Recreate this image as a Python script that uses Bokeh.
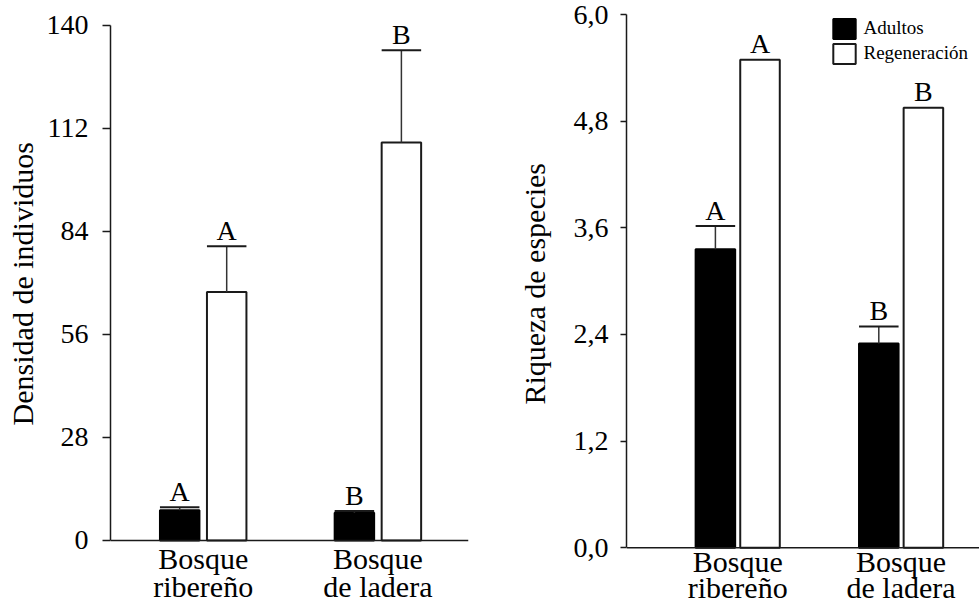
from bokeh.plotting import figure
from bokeh.models import Range1d, FixedTicker, Legend, LegendItem, Span
from bokeh.layouts import row
from bokeh.embed import file_html
from bokeh.resources import INLINE
from bokeh.core.properties import value

# ---------------- data ----------------
categories = ["Bosque\nribereño", "Bosque\nde ladera"]
series = ["Adultos", "Regeneración"]

dens_adultos = [8.2, 7.5]
dens_adultos_err = [0.8, 0.5]
dens_regen = [67.5, 108.1]
dens_regen_err = [12.4, 25.1]
dens_adultos_letras = ["A", "B"]
dens_regen_letras = ["A", "B"]

riq_adultos = [3.36, 2.30]
riq_adultos_err = [0.26, 0.19]
riq_regen = [5.49, 4.95]
riq_adultos_letras = ["A", "B"]
riq_regen_letras = ["A", "B"]

dens_ticks = [0, 28, 56, 84, 112, 140]
dens_tick_labels = ["0", "28", "56", "84", "112", "140"]
riq_ticks = [0.0, 1.2, 2.4, 3.6, 4.8, 6.0]
riq_tick_labels = ["0,0", "1,2", "2,4", "3,6", "4,8", "6,0"]

FONT = "Liberation Serif"
INK = "#1a1a1a"
NBSP = "\u00a0"


def make_panel(width, height, xr, yr, ybounds, borders, ticks, tick_labels,
               ylabel, title_pad, tick_out, label_standoff, title_standoff,
               offset, bar_w, adults, adults_err, regen, regen_err,
               letters_a, letters_r, letter_off, cat_offsets, legend_loc=None):
    p = figure(width=width, height=height,
               x_range=Range1d(*xr), y_range=Range1d(*yr),
               x_axis_location=None,
               output_backend="svg", toolbar_location=None,
               min_border_left=borders[0], min_border_right=borders[1],
               min_border_top=borders[2], min_border_bottom=borders[3])
    p.outline_line_color = None
    p.grid.visible = False
    p.background_fill_color = "white"
    p.border_fill_color = "white"

    xs = list(range(len(categories)))
    xa = [x - offset for x in xs]
    xg = [x + offset for x in xs]

    ra = p.vbar(x=xa, top=adults, bottom=0, width=bar_w,
                fill_color="black", line_color="black", line_width=2)
    rg = p.vbar(x=xg, top=regen, bottom=0, width=bar_w,
                fill_color="white", line_color=INK, line_width=2)

    def errbars(xc, vals, errs):
        tops = [v + e for v, e in zip(vals, errs)]
        p.segment(x0=xc, y0=vals, x1=xc, y1=tops,
                  line_color="#333333", line_width=1.5)
        p.segment(x0=[x - bar_w / 2 for x in xc], y0=tops,
                  x1=[x + bar_w / 2 for x in xc], y1=tops,
                  line_color=INK, line_width=2)
        return tops

    top_a = errbars(xa, adults, adults_err) if adults_err else adults
    top_g = errbars(xg, regen, regen_err) if regen_err else regen

    for xc, tops, letters in ((xa, top_a, letters_a), (xg, top_g, letters_r)):
        p.text(x=xc, y=tops, text=letters, y_offset=letter_off,
               text_font=value(FONT), text_font_size="28px",
               text_align="center", text_baseline="alphabetic",
               text_color="black")

    # x axis line at zero and the two-line category names beneath it
    p.add_layout(Span(location=0, dimension="width",
                      line_color=INK, line_width=1.5))
    lines = [c.split("\n") for c in categories]
    for j, dy in enumerate(cat_offsets):
        p.text(x=xs, y=[0] * len(xs), text=[ln[j] for ln in lines],
               y_offset=dy, text_font=value(FONT), text_font_size="30px",
               text_align="center", text_baseline="alphabetic",
               text_color="black")

    ya = p.yaxis[0]
    ya.ticker = FixedTicker(ticks=ticks)
    ya.major_label_overrides = dict(zip(ticks, tick_labels))
    ya.bounds = ybounds
    ya.major_tick_out = tick_out
    ya.major_tick_in = 0
    ya.minor_tick_line_color = None
    ya.major_tick_line_color = INK
    ya.major_tick_line_width = 1.5
    ya.axis_line_color = INK
    ya.axis_line_width = 1.5
    ya.major_label_standoff = label_standoff
    ya.major_label_text_font = FONT
    ya.major_label_text_font_size = "28px"
    ya.major_label_text_color = "black"
    # leading no-break spaces centre the title on the 0..max part of the axis
    ya.axis_label = NBSP * title_pad + ylabel
    ya.axis_label_text_font = FONT
    ya.axis_label_text_font_size = "30px"
    ya.axis_label_text_font_style = "normal"
    ya.axis_label_text_color = "black"
    ya.axis_label_standoff = title_standoff

    if legend_loc is not None:
        legend = Legend(items=[LegendItem(label=series[0], renderers=[ra]),
                               LegendItem(label=series[1], renderers=[rg])],
                        location=legend_loc,
                        glyph_width=28, glyph_height=25, label_height=25,
                        label_standoff=6, spacing=0, padding=0, margin=0,
                        label_text_font=FONT, label_text_font_size="19px",
                        label_text_color="black",
                        border_line_color=None, background_fill_alpha=0)
        p.add_layout(legend)
    return p


left = make_panel(
    width=512, height=605,
    xr=(-0.5306, 1.5186), yr=(-17.67, 142.89), ybounds=(0, 140),
    borders=(110, 44, 10, 0),
    ticks=dens_ticks, tick_labels=dens_tick_labels,
    ylabel="Densidad de individuos", title_pad=7,
    tick_out=8, label_standoff=14, title_standoff=5,
    offset=0.1345, bar_w=0.226,
    adults=dens_adultos, adults_err=dens_adultos_err,
    regen=dens_regen, regen_err=dens_regen_err,
    letters_a=dens_adultos_letras, letters_r=dens_regen_letras,
    letter_off=-16, cat_offsets=[17.8, 46.3])

right = make_panel(
    width=467, height=605,
    xr=(-0.6806, 1.4798), yr=(-0.649, 6.0), ybounds=(0, 6.0),
    borders=(114, 0, 14, 0),
    ticks=riq_ticks, tick_labels=riq_tick_labels,
    ylabel="Riqueza de especies", title_pad=7,
    tick_out=6, label_standoff=12, title_standoff=20,
    offset=0.1365, bar_w=0.242,
    adults=riq_adultos, adults_err=riq_adultos_err,
    regen=riq_regen, regen_err=None,
    letters_a=riq_adultos_letras, letters_r=riq_regen_letras,
    letter_off=-16, cat_offsets=[13.5, 40.0],
    legend_loc=(203.5, 539.2))

layout = row(left, right)
open("out.html", "w").write(file_html(layout, INLINE))
